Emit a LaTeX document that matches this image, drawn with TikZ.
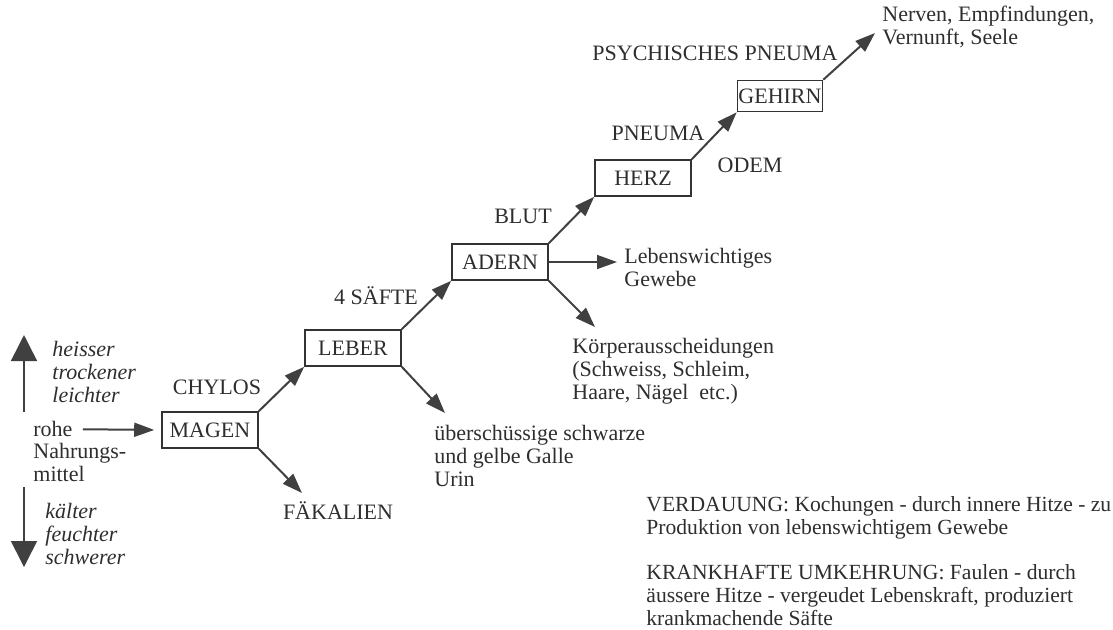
\documentclass[tikz,border=0pt]{standalone}
\usepackage{fontspec}
\setmainfont{Liberation Serif}
\usetikzlibrary{arrows.meta}

\tikzset{
  organ/.style={draw=black!80, line width=0.8pt, minimum width=48pt, minimum height=18pt},
  flow/.style={-{Triangle[length=10pt,width=7pt]}, line width=1pt, draw=black!75},
  bigflow/.style={-{Triangle[length=13pt,width=13pt]}, line width=0.8pt, draw=black!75},
  txt/.style={align=left, anchor=north west},
  note/.style={txt, font=\fontsize{10.8}{11.6}\selectfont},
}

\begin{document}
\begin{tikzpicture}[x=0.5pt,y=-0.5pt]
\tikzstyle{every node}+=[inner sep=0pt, font=\fontsize{11}{11.4}\selectfont, text=black!82]
\useasboundingbox (0,0) rectangle (1113,629);
% the organs
\node[organ] (magen) at (210,430) {MAGEN};
\node[organ] (leber) at (353,348) {LEBER};
\node[organ] (adern) at (500,262) {ADERN};
\node[organ] (herz) at (643,178) {HERZ};
\node[organ, minimum width=42.5pt, minimum height=15.5pt] (gehirn) at (780,96) {GEHIRN};
% labels on the way up
\node (chylos) at (217,387) {CHYLOS};
\node (saefte) at (376,296) {4 SÄFTE};
\node (blut) at (523,216) {BLUT};
\node (pneuma) at (658,133) {PNEUMA};
\node (odem) at (750,165) {ODEM};
\node (psych) at (715,53) {PSYCHISCHES PNEUMA};
% products
\node (fak) at (338,511) {FÄKALIEN};
\node[txt] (galle) at (434,425) {überschüssige schwarze\\und gelbe Galle\\Urin};
\node[txt] (gewebe) at (624,248) {Lebenswichtiges\\Gewebe};
\node[txt] (koerper) at (572,338) {Körperausscheidungen\\(Schweiss, Schleim,\\Haare, Nägel\ \ etc.)};
\node[txt] (nerven) at (882,6) {Nerven, Empfindungen,\\Vernunft, Seele};
% food and qualities
\node[anchor=north west] (rohe) at (33,421) {rohe};
\node[txt] (nahrung) at (33,443) {Nahrungs-\\mittel};
\node[txt, font=\fontsize{11}{11.4}\selectfont\itshape] (hot) at (52,341) {heisser\\trockener\\leichter};
\node[txt, font=\fontsize{11}{11.4}\selectfont\itshape] (cold) at (45,503) {kälter\\feuchter\\schwerer};
% notes
\node[note] (verdauung) at (646,496) {VERDAUUNG: Kochungen - durch innere Hitze - zu\\Produktion von lebenswichtigem Gewebe};
\node[note] (umkehr) at (646,564) {KRANKHAFTE UMKEHRUNG: Faulen - durch\\äussere Hitze - vergeudet Lebenskraft, produziert\\krankmachende Säfte};
% free ends
\coordinate (fakTip) at (302,493);
\coordinate (galleTip) at (445,413);
\coordinate (gewebeTip) at (617,262);
\coordinate (koerperTip) at (595,327);
\coordinate (nervenTip) at (875,33);
\coordinate (hotStart) at (24,412);
\coordinate (hotTip) at (24,335);
\coordinate (coldStart) at (24,487);
\coordinate (coldTip) at (24,567);
% connectors
\draw[flow] (rohe.east) [shorten <=5pt, shorten >=3.5pt] -- (magen.west);
\draw[flow] (magen.north east) -- (leber.south west);
\draw[flow] (magen.south east) -- (fakTip);
\draw[flow] (leber.north east) -- (adern.south west);
\draw[flow] (leber.south east) -- (galleTip);
\draw[flow] (adern.north east) -- (herz.south west);
\draw[flow, line width=0.8pt] (adern.east) -- (gewebeTip);
\draw[flow] (adern.south east) -- (koerperTip);
\draw[flow] (herz.north east) -- (gehirn.south west);
\draw[flow] (gehirn.north east) -- (nervenTip);
\draw[bigflow] (hotStart) -- (hotTip);
\draw[bigflow] (coldStart) -- (coldTip);
\end{tikzpicture}
\end{document}
